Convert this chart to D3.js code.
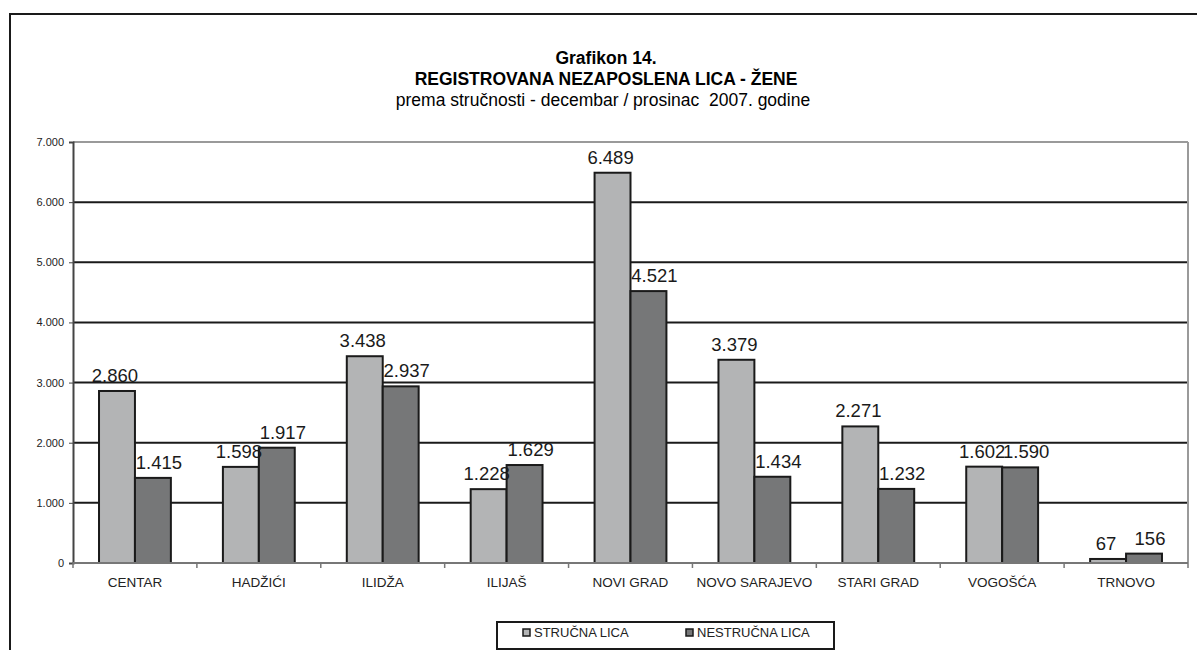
<!DOCTYPE html>
<html>
<head>
<meta charset="utf-8">
<script src="https://cdn.jsdelivr.net/npm/d3@7"></script>
<style>
  body { margin: 0; background: #fff; }
  svg { display: block; font-family: Arial, "Liberation Sans", sans-serif; }
</style>
</head>
<body>
<div id="chart"></div>
<script>
const categories = ["CENTAR", "HADŽIĆI", "ILIDŽA", "ILIJAŠ", "NOVI GRAD", "NOVO SARAJEVO", "STARI GRAD", "VOGOŠĆA", "TRNOVO"];
const seriesNames = ["STRUČNA LICA", "NESTRUČNA LICA"];
const strucna = [2860, 1598, 3438, 1228, 6489, 3379, 2271, 1602, 67];
const nestrucna = [1415, 1917, 2937, 1629, 4521, 1434, 1232, 1590, 156];
const yTicks = [0, 1000, 2000, 3000, 4000, 5000, 6000, 7000];

const WIDTH = 1197;
const HEIGHT = 650;
const COLORS = ["#b3b4b5", "#767778"];

const locale = d3.formatLocale({ decimal: ",", thousands: ".", grouping: [3], currency: ["", ""] });
const fmt = locale.format(",d");

const svg = d3.select("#chart")
    .append("svg")
    .attr("width", WIDTH)
    .attr("height", HEIGHT);

// outer frame (runs off the right and bottom edge)
svg.append("rect")
    .attr("x", 10).attr("y", 14)
    .attr("width", WIDTH + 20).attr("height", HEIGHT + 20)
    .attr("fill", "none")
    .attr("stroke", "#1a1a1a")
    .attr("stroke-width", 2);

/* TITLES */
const titleX = 606;
svg.append("text").attr("x", titleX).attr("y", 64)
    .attr("text-anchor", "middle").attr("font-weight", "bold").attr("font-size", 17.5)
    .text("Grafikon 14.");
svg.append("text").attr("x", titleX).attr("y", 85)
    .attr("text-anchor", "middle").attr("font-weight", "bold").attr("font-size", 17.5)
    .text("REGISTROVANA NEZAPOSLENA LICA - ŽENE");
svg.append("text").attr("x", titleX - 3).attr("y", 106)
    .attr("text-anchor", "middle").attr("font-size", 17.5)
    .style("white-space", "pre")
    .text("prema stručnosti - decembar / prosinac  2007. godine");

/* SCALES */
const plot = { left: 73, right: 1188, top: 142, bottom: 563 };

const x0 = d3.scaleBand()
    .domain(categories)
    .range([plot.left, plot.right]);

const groupW = x0.bandwidth() * 0.58;
const x1 = d3.scaleBand()
    .domain(seriesNames)
    .range([(x0.bandwidth() - groupW) / 2, (x0.bandwidth() + groupW) / 2]);

const y = d3.scaleLinear()
    .domain([0, 7000])
    .range([plot.bottom, plot.top]);

/* GRID */
svg.append("g").selectAll("line")
    .data(yTicks.filter(t => t > 0))
    .join("line")
    .attr("x1", plot.left).attr("x2", plot.right)
    .attr("y1", d => y(d)).attr("y2", d => y(d))
    .attr("stroke", d => d === 7000 ? "#9a9a9a" : "#1a1a1a")
    .attr("stroke-width", 2);

// right plot border
svg.append("line")
    .attr("x1", plot.right).attr("x2", plot.right)
    .attr("y1", plot.top).attr("y2", plot.bottom)
    .attr("stroke", "#9a9a9a").attr("stroke-width", 2);

/* BARS */
const rows = categories.map((c, i) => ({ cat: c, values: [strucna[i], nestrucna[i]] }));

const groups = svg.append("g").selectAll("g")
    .data(rows)
    .join("g")
    .attr("transform", d => `translate(${x0(d.cat)},0)`);

groups.selectAll("rect")
    .data(d => d.values.map((v, k) => ({ key: seriesNames[k], value: v, k })))
    .join("rect")
    .attr("x", d => x1(d.key))
    .attr("y", d => y(d.value))
    .attr("width", x1.bandwidth())
    .attr("height", d => y(0) - y(d.value))
    .attr("fill", d => COLORS[d.k])
    .attr("stroke", "#1a1a1a")
    .attr("stroke-width", 2);

groups.selectAll("text")
    .data(d => d.values.map((v, k) => ({ key: seriesNames[k], value: v, k })))
    .join("text")
    .attr("x", d => x1(d.key) + x1.bandwidth() / 2 + (d.k === 1 ? 6 : -2))
    .attr("y", d => y(d.value) - 9)
    .attr("text-anchor", "middle")
    .attr("font-size", 18.5)
    .attr("fill", "#1a1a1a")
    .text(d => fmt(d.value));

/* AXES */
const yAxis = svg.append("g")
    .attr("transform", `translate(${plot.left},0)`)
    .call(d3.axisLeft(y).tickValues(yTicks).tickFormat(fmt).tickSize(4).tickPadding(5));
yAxis.select(".domain").attr("stroke", "#444").attr("stroke-width", 2);
yAxis.selectAll(".tick line").attr("stroke", "#444");
yAxis.selectAll("text").attr("font-size", 11).attr("font-family", "Arial, 'Liberation Sans', sans-serif").attr("fill", "#222");

// baseline with category separators
svg.append("line")
    .attr("x1", plot.left).attr("x2", plot.right)
    .attr("y1", y(0)).attr("y2", y(0))
    .attr("stroke", "#777").attr("stroke-width", 2);

const seps = categories.map(c => x0(c)).concat([plot.right]);
svg.append("g").selectAll("line")
    .data(seps)
    .join("line")
    .attr("x1", d => d).attr("x2", d => d)
    .attr("y1", y(0)).attr("y2", y(0) + 5)
    .attr("stroke", "#777").attr("stroke-width", 1.5);

svg.append("g").selectAll("text")
    .data(categories)
    .join("text")
    .attr("x", d => x0(d) + x0.bandwidth() / 2)
    .attr("y", 587)
    .attr("text-anchor", "middle")
    .attr("font-size", 13.5)
    .attr("fill", "#222")
    .text(d => d);

/* LEGEND */
const legend = svg.append("g");
legend.append("rect")
    .attr("x", 497).attr("y", 622)
    .attr("width", 337).attr("height", 27)
    .attr("fill", "#fff")
    .attr("stroke", "#1a1a1a").attr("stroke-width", 2);

const legendX = [523, 686];
seriesNames.forEach((name, k) => {
    legend.append("rect")
        .attr("x", legendX[k]).attr("y", 629)
        .attr("width", 7).attr("height", 7)
        .attr("fill", COLORS[k])
        .attr("stroke", "#1a1a1a").attr("stroke-width", 1.5);
    legend.append("text")
        .attr("x", legendX[k] + 11).attr("y", 637)
        .attr("font-size", 13)
        .attr("fill", "#222")
        .text(name);
});
</script>
</body>
</html>
